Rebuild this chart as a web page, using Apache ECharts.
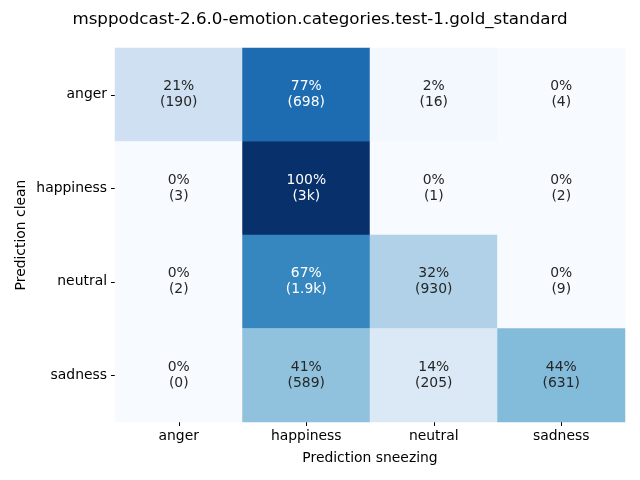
<!DOCTYPE html>
<html><head><meta charset="utf-8">
<script src="https://cdn.jsdelivr.net/npm/echarts@6/dist/echarts.min.js"></script>
<style>html,body{margin:0;padding:0;background:#fff}#c{width:640px;height:480px}</style>
</head><body><div id="c"></div>
<script>
const categoriesX = ['anger', 'happiness', 'neutral', 'sadness'];
const categoriesY = ['anger', 'happiness', 'neutral', 'sadness'];
const percents = [
  [21, 77, 2, 0],
  [0, 100, 0, 0],
  [0, 67, 32, 0],
  [0, 41, 14, 44]
];
const counts = [
  ['190', '698', '16', '4'],
  ['3', '3k', '1', '2'],
  ['2', '1.9k', '930', '9'],
  ['0', '589', '205', '631']
];
const titleText = 'msppodcast-2.6.0-emotion.categories.test-1.gold_standard';
const xName = 'Prediction sneezing';
const yName = 'Prediction clean';

const blues = ['#f7fbff','#deebf7','#c6dbef','#9ecae1','#6baed6','#4292c6','#2171b5','#08519c','#08306b'];
const data = [];
for (let r = 0; r < categoriesY.length; r++) {
  for (let c = 0; c < categoriesX.length; c++) {
    const p = percents[r][c];
    data.push({
      value: [c, r, p],
      label: { color: p > 55 ? '#ffffff' : '#262626' },
      cnt: counts[r][c]
    });
  }
}
const font = 'DejaVu Sans';
const fs = 13.9;
const chart = echarts.init(document.getElementById('c'), null, {renderer: 'canvas'});
chart.setOption({
  animation: false,
  backgroundColor: '#fff',
  title: {
    text: titleText, left: 'center', top: 6,
    textStyle: { fontFamily: font, fontSize: 16.7, fontWeight: 'normal', color: '#000' }
  },
  grid: { left: 115, right: 15, top: 48, bottom: 58 },
  xAxis: {
    type: 'category', data: categoriesX,
    name: xName, nameLocation: 'middle', nameGap: 29, nameMoveOverlap: false,
    nameTextStyle: { fontFamily: font, fontSize: fs, color: '#000' },
    axisLine: { show: false },
    axisTick: { show: true, alignWithLabel: true, length: 4, lineStyle: { color: '#000' } },
    axisLabel: { fontFamily: font, fontSize: fs, color: '#000', margin: 7 },
    splitArea: { show: false }, splitLine: { show: false }
  },
  yAxis: {
    type: 'category', data: categoriesY, inverse: true,
    name: yName, nameLocation: 'middle', nameGap: 87, nameRotate: 90, nameMoveOverlap: false,
    nameTextStyle: { fontFamily: font, fontSize: fs, color: '#000' },
    axisLine: { show: false },
    axisTick: { show: true, alignWithLabel: true, length: 4, lineStyle: { color: '#000' } },
    axisLabel: { fontFamily: font, fontSize: fs, color: '#000', margin: 8 },
    splitArea: { show: false }, splitLine: { show: false }
  },
  visualMap: {
    show: false, type: 'continuous', min: 0, max: 100, dimension: 2,
    inRange: { color: blues }
  },
  series: [{
    type: 'heatmap',
    data: data,
    itemStyle: { borderWidth: 0 },
    emphasis: { disabled: true },
    label: {
      show: true, fontFamily: font, fontSize: fs, lineHeight: 16,
      formatter: function (p) { return p.value[2] + '%\n(' + p.data.cnt + ')'; }
    }
  }]
});
</script></body></html>
